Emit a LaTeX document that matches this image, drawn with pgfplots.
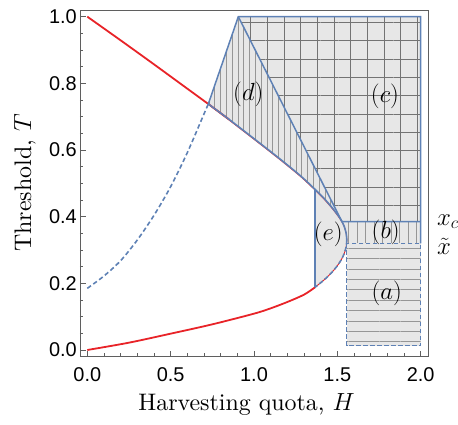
\documentclass[border=0pt]{standalone}
\usepackage{fontspec}
\setmainfont{lmroman10-regular.otf}[ItalicFont=lmroman10-italic.otf, BoldFont=lmroman10-bold.otf]
\usepackage{pgfplots}
\pgfplotsset{compat=1.18}
\usetikzlibrary{patterns.meta}
\newfontfamily\tickfont{Liberation Sans}
\definecolor{myred}{RGB}{232,35,40}
\definecolor{myblue}{RGB}{94,129,181}
\definecolor{fillg}{RGB}{231,231,231}
\definecolor{hatchg}{RGB}{150,150,150}
\definecolor{gridg}{RGB}{115,115,115}
\definecolor{frameg}{RGB}{95,95,95}
\begin{document}
\begin{tikzpicture}
\begin{axis}[
  scale only axis, width=348bp, height=346bp,
  xmin=-0.0438, xmax=2.044, ymin=-0.018, ymax=1.02,
  clip=false,
  axis line style={frameg, line width=0.9bp},
  xtick={0,0.5,1,1.5,2}, ytick={0,0.2,0.4,0.6,0.8,1},
  xticklabels={0.0,0.5,1.0,1.5,2.0},
  yticklabels={0.0,0.2,0.4,0.6,0.8,1.0},
  minor x tick num=4, minor y tick num=3,
  tick pos=left, tick align=inside,
  major tick length=5.5bp, minor tick length=3.2bp,
  every tick/.style={frameg, line width=0.8bp},
  ticklabel style={font=\tickfont\fontsize{20}{22}\selectfont, inner sep=0pt},
  xticklabel style={yshift=-11.5bp},
  yticklabel style={xshift=-3bp},
  xlabel={Harvesting quota, $H$}, ylabel={Threshold, $T$},
  every axis x label/.style={at={(axis description cs:0.5,0)}, anchor=center, yshift=-48bp, xshift=-7.5bp, font=\fontsize{24}{28}\selectfont},
  every axis y label/.style={at={(axis description cs:0,0.5)}, rotate=90, anchor=center, yshift=55bp, font=\fontsize{24}{28}\selectfont},
]
% region (c)
\addplot[draw=none, fill=fillg,
  postaction={pattern={Lines[angle=90,distance=16.7bp,line width=0.7bp]}, pattern color=gridg},
  postaction={pattern={Lines[angle=0,distance=18.3bp,line width=0.7bp]}, pattern color=gridg}]
  coordinates {(0.906,1.0)(2,1.0)(2,0.385)(1.528,0.385)} -- cycle;
% region (d)
\addplot[draw=none, fill=fillg,
  postaction={pattern={Lines[angle=90,distance=5.8bp,line width=0.5bp]}, pattern color=hatchg}]
  coordinates {(0.726,0.738)(0.906,1.0)(1.528,0.385)(1.51,0.40)(1.472,0.425)(1.42,0.455)(1.366,0.482)(1.285,0.52)(1.176,0.565)(1.08,0.603)(0.977,0.643)(0.85,0.692)} -- cycle;
% region (e)
\addplot[draw=none, fill=fillg]
  coordinates {(1.366,0.188)(1.366,0.482)(1.42,0.455)(1.472,0.425)(1.51,0.40)(1.528,0.385)(1.542,0.37)(1.553,0.35)(1.557,0.33)(1.553,0.31)(1.542,0.29)(1.523,0.27)(1.496,0.25)(1.462,0.23)(1.42,0.21)} -- cycle;
% region (b)
\addplot[draw=none, fill=fillg,
  postaction={pattern={Lines[angle=90,distance=8.5bp,line width=0.5bp]}, pattern color=hatchg}]
  coordinates {(1.528,0.385)(2,0.385)(2,0.32)(1.556,0.32)(1.557,0.33)(1.553,0.35)(1.542,0.37)} -- cycle;
% region (a)
\addplot[draw=none, fill=fillg,
  postaction={pattern={Lines[angle=0,distance=10.4bp,line width=0.6bp]}, pattern color=hatchg}]
  coordinates {(1.556,0.013)(2,0.013)(2,0.32)(1.556,0.32)} -- cycle;
% red branches (thick where visible, thin under the blue boundaries)
\addplot[myred, line width=1.8bp, smooth, tension=0.5] coordinates {
  (0,1.0)(0.2,0.929)(0.4,0.857)(0.6,0.784)(0.726,0.738)(0.85,0.692)};
\addplot[myred, line width=0.9bp, smooth, tension=0.5] coordinates {
  (0.726,0.737)(0.85,0.690)(0.977,0.641)(1.08,0.601)(1.176,0.563)(1.285,0.518)(1.366,0.480)(1.42,0.453)(1.472,0.423)(1.51,0.398)(1.528,0.384)(1.542,0.37)(1.553,0.35)(1.557,0.33)};
\addplot[myred, line width=1.8bp, smooth, tension=0.5] coordinates {
  (0,0)(0.25,0.022)(0.5,0.049)(0.75,0.077)(1.0,0.109)(1.1,0.125)(1.2,0.144)(1.3,0.166)(1.366,0.188)};
\addplot[myred, line width=0.9bp, smooth, tension=0.5] coordinates {
  (1.366,0.188)(1.42,0.21)(1.462,0.23)(1.496,0.25)(1.523,0.27)(1.542,0.29)(1.553,0.31)(1.557,0.33)};
% blue solid outlines
\addplot[myblue, line width=1.5bp] coordinates {(0.726,0.738)(0.906,1.0)(2,1.0)(2,0.32)};
\addplot[myblue, line width=1.5bp] coordinates {(0.906,1.0)(1.528,0.385)(2,0.385)};
\addplot[myblue, line width=1.5bp] coordinates {(1.366,0.188)(1.366,0.482)};
\addplot[myblue, line width=1.6bp, smooth, tension=0.5] coordinates {
  (0.726,0.738)(0.85,0.692)(0.977,0.643)(1.08,0.603)(1.176,0.565)(1.285,0.52)(1.366,0.482)(1.42,0.455)(1.472,0.425)(1.51,0.40)(1.528,0.385)(1.542,0.37)(1.553,0.35)(1.557,0.33)};
% blue dashed
\addplot[myblue, line width=1.6bp, dash pattern=on 4.5bp off 2.5bp, smooth, tension=0.5] coordinates {
  (1.557,0.33)(1.553,0.31)(1.542,0.29)(1.523,0.27)(1.496,0.25)(1.462,0.23)(1.42,0.21)(1.366,0.188)};
\addplot[myblue, line width=1.5bp, dash pattern=on 4.5bp off 2.5bp] coordinates {(1.556,0.32)(1.556,0.013)(2,0.013)(2,0.32)(1.556,0.32)};
\addplot[myblue, line width=1.6bp, dash pattern=on 4.5bp off 2.8bp, smooth, tension=0.5] coordinates {
  (0,0.185)(0.1,0.222)(0.2,0.268)(0.3,0.33)(0.4,0.404)(0.5,0.49)(0.6,0.592)(0.7,0.708)(0.726,0.738)};
% labels
\node[font=\fontsize{23}{27}\selectfont] at (axis cs:0.966,0.766) {$(d)$};
\node[font=\fontsize{23}{27}\selectfont] at (axis cs:1.786,0.76) {$(c)$};
\node[font=\fontsize{23}{27}\selectfont] at (axis cs:1.446,0.347) {$(e)$};
\node[font=\fontsize{23}{27}\selectfont] at (axis cs:1.79,0.352) {$(b)$};
\node[font=\fontsize{23}{27}\selectfont] at (axis cs:1.796,0.17) {$(a)$};
\node[font=\fontsize{23}{27}\selectfont, anchor=west, inner sep=0pt, xshift=9bp] at (axis cs:2.044,0.385) {$x_c$};
\node[font=\fontsize{23}{27}\selectfont, anchor=west, inner sep=0pt, xshift=9bp] at (axis cs:2.044,0.311) {$\tilde{x}$};
\end{axis}
\pgfresetboundingbox
\path ([xshift=-80bp,yshift=-69bp]current axis.south west) rectangle ([xshift=30bp,yshift=10bp]current axis.north east);
\end{tikzpicture}
\end{document}
